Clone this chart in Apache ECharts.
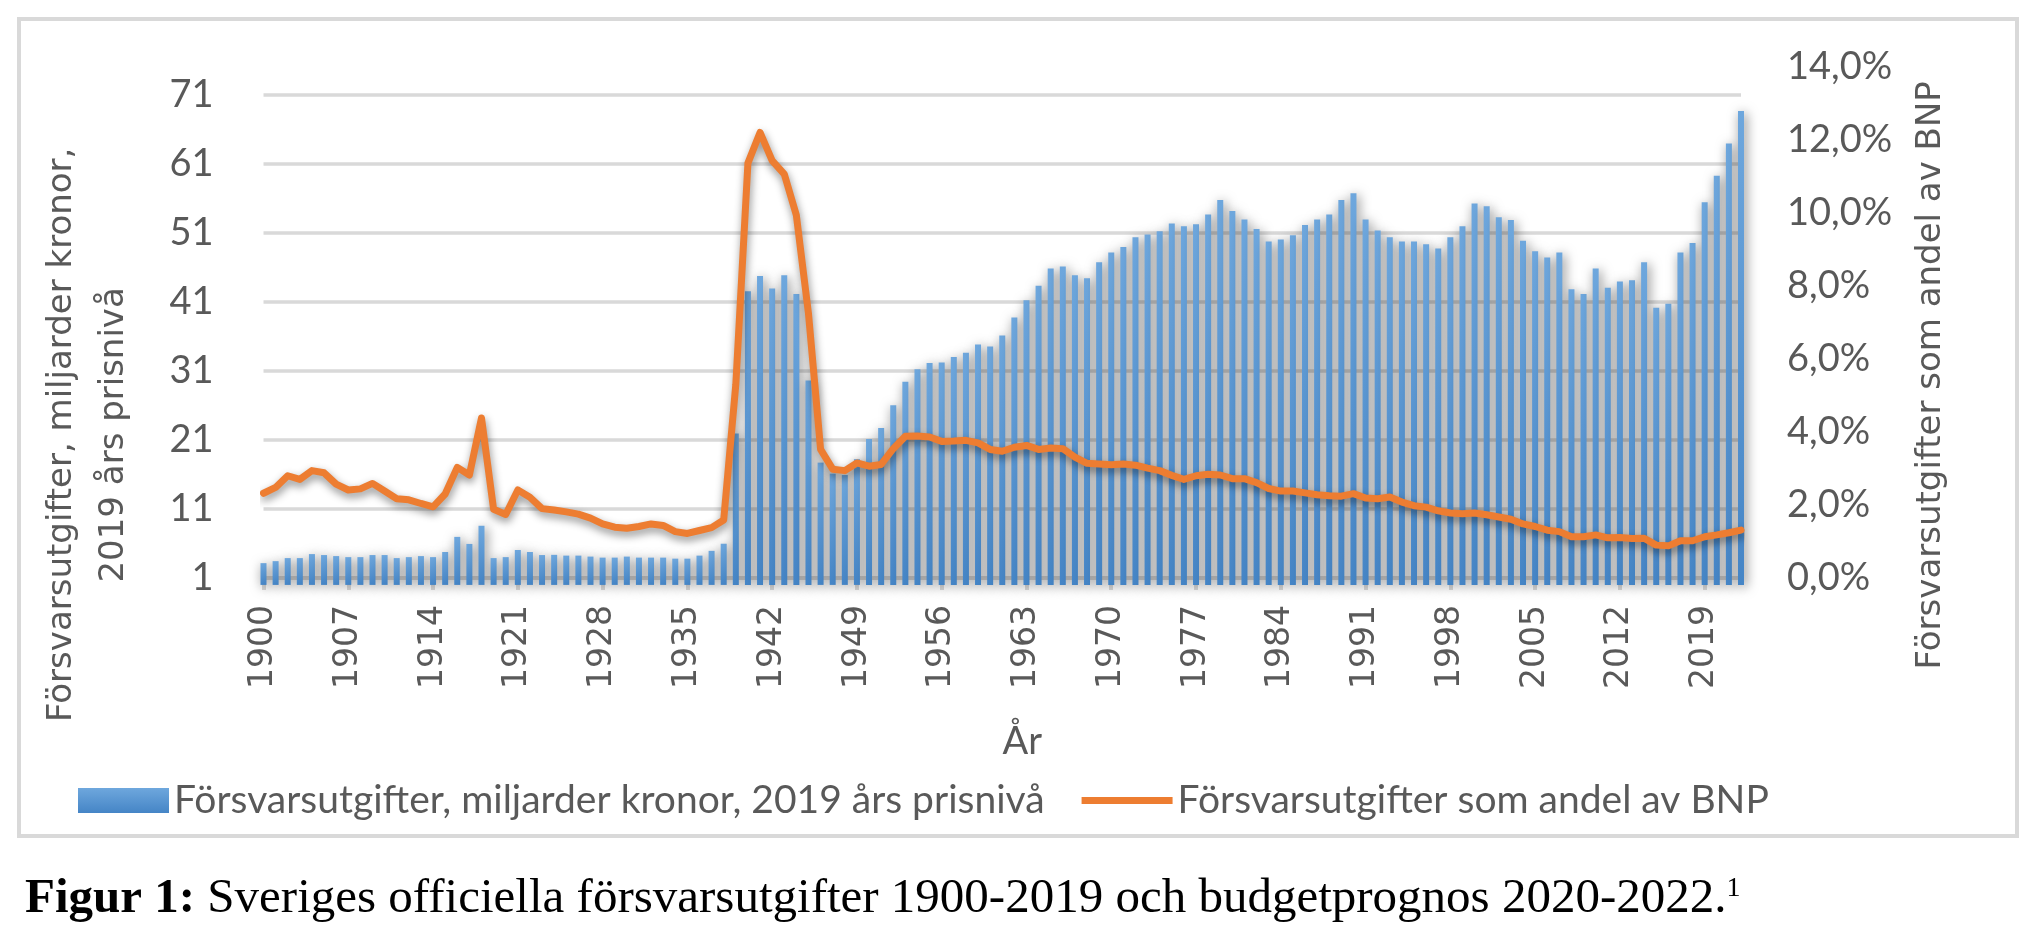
<!DOCTYPE html>
<html><head><meta charset="utf-8">
<script src="https://cdn.jsdelivr.net/npm/echarts@6.0.0/dist/echarts.min.js"></script>
<style>html,body{margin:0;padding:0;background:#fff}#c{width:2042px;height:940px}</style>
</head><body><div id="c"></div>
<script>
const years = [];
for (let y = 1900; y <= 2022; y++) years.push(String(y));

// Försvarsutgifter, miljarder kronor (2019 års prisnivå), 1900-2022
const spending = [
  3.15, 3.44, 3.88, 3.88, 4.46, 4.32, 4.17, 4.02, 4.02, 4.32,
  4.32, 3.88, 4.02, 4.17, 4.02, 4.76, 6.95, 5.93, 8.56, 3.88,
  4.02, 5.05, 4.76, 4.32, 4.35, 4.24, 4.24, 4.10, 3.95, 3.95,
  4.10, 3.95, 3.95, 3.95, 3.80, 3.80, 4.24, 4.93, 5.96, 21.9,
  42.5, 44.7, 42.9, 44.8, 42.1, 29.6, 17.7, 16.1, 15.9, 18.2,
  21.1, 22.7, 26.0, 29.4, 31.2, 32.1, 32.2, 33.0, 33.6, 34.8,
  34.5, 36.1, 38.7, 41.2, 43.3, 45.8, 46.1, 44.8, 44.4, 46.7,
  48.1, 48.9, 50.3, 50.7, 51.2, 52.3, 51.9, 52.2, 53.6, 55.7,
  54.1, 52.9, 51.5, 49.7, 50.0, 50.6, 52.1, 52.9, 53.6, 55.7,
  56.7, 52.9, 51.3, 50.3, 49.7, 49.7, 49.3, 48.7, 50.3, 51.9,
  55.2, 54.8, 53.2, 52.8, 49.8, 48.3, 47.4, 48.1, 42.8, 42.1,
  45.8, 43.0, 43.9, 44.1, 46.7, 40.1, 40.7, 48.1, 49.5, 55.4,
  59.2, 63.9, 68.6
];

// Försvarsutgifter som andel av BNP (%), 1900-2022
const gdpShare = [
  2.32, 2.48, 2.80, 2.70, 2.94, 2.88, 2.57, 2.41, 2.44, 2.59,
  2.38, 2.17, 2.14, 2.04, 1.95, 2.30, 3.03, 2.82, 4.38, 1.88,
  1.74, 2.41, 2.21, 1.90, 1.86, 1.81, 1.75, 1.64, 1.48, 1.39,
  1.36, 1.41, 1.48, 1.44, 1.27, 1.22, 1.30, 1.38, 1.59, 5.30,
  11.36, 12.20, 11.43, 11.06, 9.93, 7.24, 3.52, 2.98, 2.94, 3.15,
  3.06, 3.11, 3.54, 3.88, 3.89, 3.86, 3.74, 3.75, 3.77, 3.70,
  3.52, 3.47, 3.58, 3.63, 3.52, 3.56, 3.54, 3.31, 3.14, 3.12,
  3.10, 3.12, 3.09, 3.01, 2.94, 2.81, 2.70, 2.80, 2.84, 2.82,
  2.72, 2.72, 2.61, 2.45, 2.38, 2.38, 2.33, 2.28, 2.25, 2.24,
  2.31, 2.19, 2.17, 2.22, 2.08, 1.98, 1.94, 1.84, 1.78, 1.76,
  1.78, 1.73, 1.67, 1.61, 1.48, 1.41, 1.31, 1.27, 1.13, 1.13,
  1.18, 1.10, 1.11, 1.08, 1.09, 0.90, 0.88, 1.02, 1.02, 1.13,
  1.18, 1.24, 1.31
];

const leftTicks = [1, 11, 21, 31, 41, 51, 61, 71];
const rightTicks = [0, 2, 4, 6, 8, 10, 12, 14];

const barName = 'Försvarsutgifter, miljarder kronor, 2019 års prisnivå';
const lineName = 'Försvarsutgifter som andel av BNP';
const leftTitle = 'Försvarsutgifter, miljarder kronor,\n2019 års prisnivå';
const xTitle = 'År';
const caption = '{b|Figur 1:} Sveriges officiella försvarsutgifter 1900-2019 och budgetprognos 2020-2022.{s|1}';

const grey = '#595959';
const chart = echarts.init(document.getElementById('c'), null, {renderer: 'canvas'});
chart.setOption({
  animation: false,
  backgroundColor: '#ffffff',
  title: {
    text: caption,
    left: 20, top: 870,
    textStyle: {
      fontFamily: 'Liberation Serif', fontSize: 49, fontWeight: 'normal', color: '#000',
      rich: {
        b: {fontFamily: 'Liberation Serif', fontSize: 49, fontWeight: 'bold', color: '#000'},
        s: {fontFamily: 'Liberation Serif', fontSize: 28, verticalAlign: 'top', color: '#000'}
      }
    }
  },
  graphic: [{
    type: 'rect', silent: true, z: -10,
    shape: {x: 19, y: 19, width: 1998, height: 817},
    style: {fill: 'none', stroke: '#d9d9d9', lineWidth: 4}
  }],
  legend: {
    left: 73, top: 776,
    itemWidth: 91, itemHeight: 25, itemGap: 37,
    textStyle: {fontFamily: 'Lato', fontSize: 39, color: grey},
    itemStyle: {shadowBlur: 0, shadowColor: 'rgba(0,0,0,0)', shadowOffsetX: 0, shadowOffsetY: 0},
    lineStyle: {shadowBlur: 0, shadowColor: 'rgba(0,0,0,0)', shadowOffsetX: 0, shadowOffsetY: 0},
    data: [
      {name: barName, icon: 'rect'},
      {name: lineName, icon: 'path://M0,0 M0,25 M0,9 L91,9 L91,16 L0,16 Z'}
    ]
  },
  grid: {left: 263.5, right: 301, top: 66.7, bottom: 362, containLabel: false, outerBoundsMode: 'none'},
  xAxis: {
    type: 'category', data: years, boundaryGap: false,
    axisLine: {lineStyle: {color: '#d9d9d9', width: 4}},
    axisTick: {show: true, interval: 6, length: 12, lineStyle: {color: '#d9d9d9', width: 4}},
    axisLabel: {interval: 6, rotate: 90, margin: 27, fontFamily: 'DejaVu Sans', fontSize: 33, color: grey},
    splitLine: {show: false},
    name: xTitle, nameLocation: 'middle', nameGap: 145,
    nameTextStyle: {fontFamily: 'Lato', fontSize: 38, color: grey, padding: [0, 0, 0, 40]}
  },
  yAxis: [{
    type: 'value', position: 'left', min: 1, max: 75,
    axisLine: {show: false},
    axisTick: {show: false, customValues: leftTicks},
    axisLabel: {customValues: leftTicks, margin: 50, fontFamily: 'Lato', fontSize: 38, color: grey},
    splitLine: {show: true, lineStyle: {color: '#d9d9d9', width: 3.5}},
    name: leftTitle, nameLocation: 'middle', nameRotate: 90, nameGap: 123,
    nameTextStyle: {fontFamily: 'DejaVu Sans', fontSize: 34, lineHeight: 52, color: grey, align: 'center', padding: [0, 225, 0, 0]}
  }, {
    type: 'value', position: 'right', min: 0, max: 14, interval: 2,
    axisLine: {show: false},
    axisTick: {show: false, customValues: rightTicks},
    axisLabel: {customValues: rightTicks, margin: 46, fontFamily: 'Lato', fontSize: 38, color: grey,
      formatter: v => v.toFixed(1).replace('.', ',') + '%'},
    splitLine: {show: false},
    name: lineName, nameLocation: 'middle', nameRotate: 90, nameGap: 173,
    nameTextStyle: {fontFamily: 'DejaVu Sans', fontSize: 34, color: grey, padding: [0, 106, 0, 0]}
  }],
  series: [{
    name: barName, type: 'bar', data: spending, yAxisIndex: 0,
    barWidth: 6, clip: false,
    itemStyle: {
      color: new echarts.graphic.LinearGradient(0, 0, 0, 1, [
        {offset: 0, color: '#6ea7dd'}, {offset: 1, color: '#4585c6'}
      ]),
      shadowBlur: 12, shadowColor: 'rgba(0,0,0,0.55)', shadowOffsetX: 2, shadowOffsetY: 2
    },
    emphasis: {disabled: true}
  }, {
    name: lineName, type: 'line', data: gdpShare, yAxisIndex: 1,
    symbol: 'none', z: 3,
    itemStyle: {color: '#ED7D31'},
    lineStyle: {color: '#ED7D31', width: 7, join: 'round', cap: 'round',
      shadowBlur: 9, shadowColor: 'rgba(0,0,0,0.45)', shadowOffsetX: 1, shadowOffsetY: 4},
    emphasis: {disabled: true}
  }]
});
</script>
</body></html>
